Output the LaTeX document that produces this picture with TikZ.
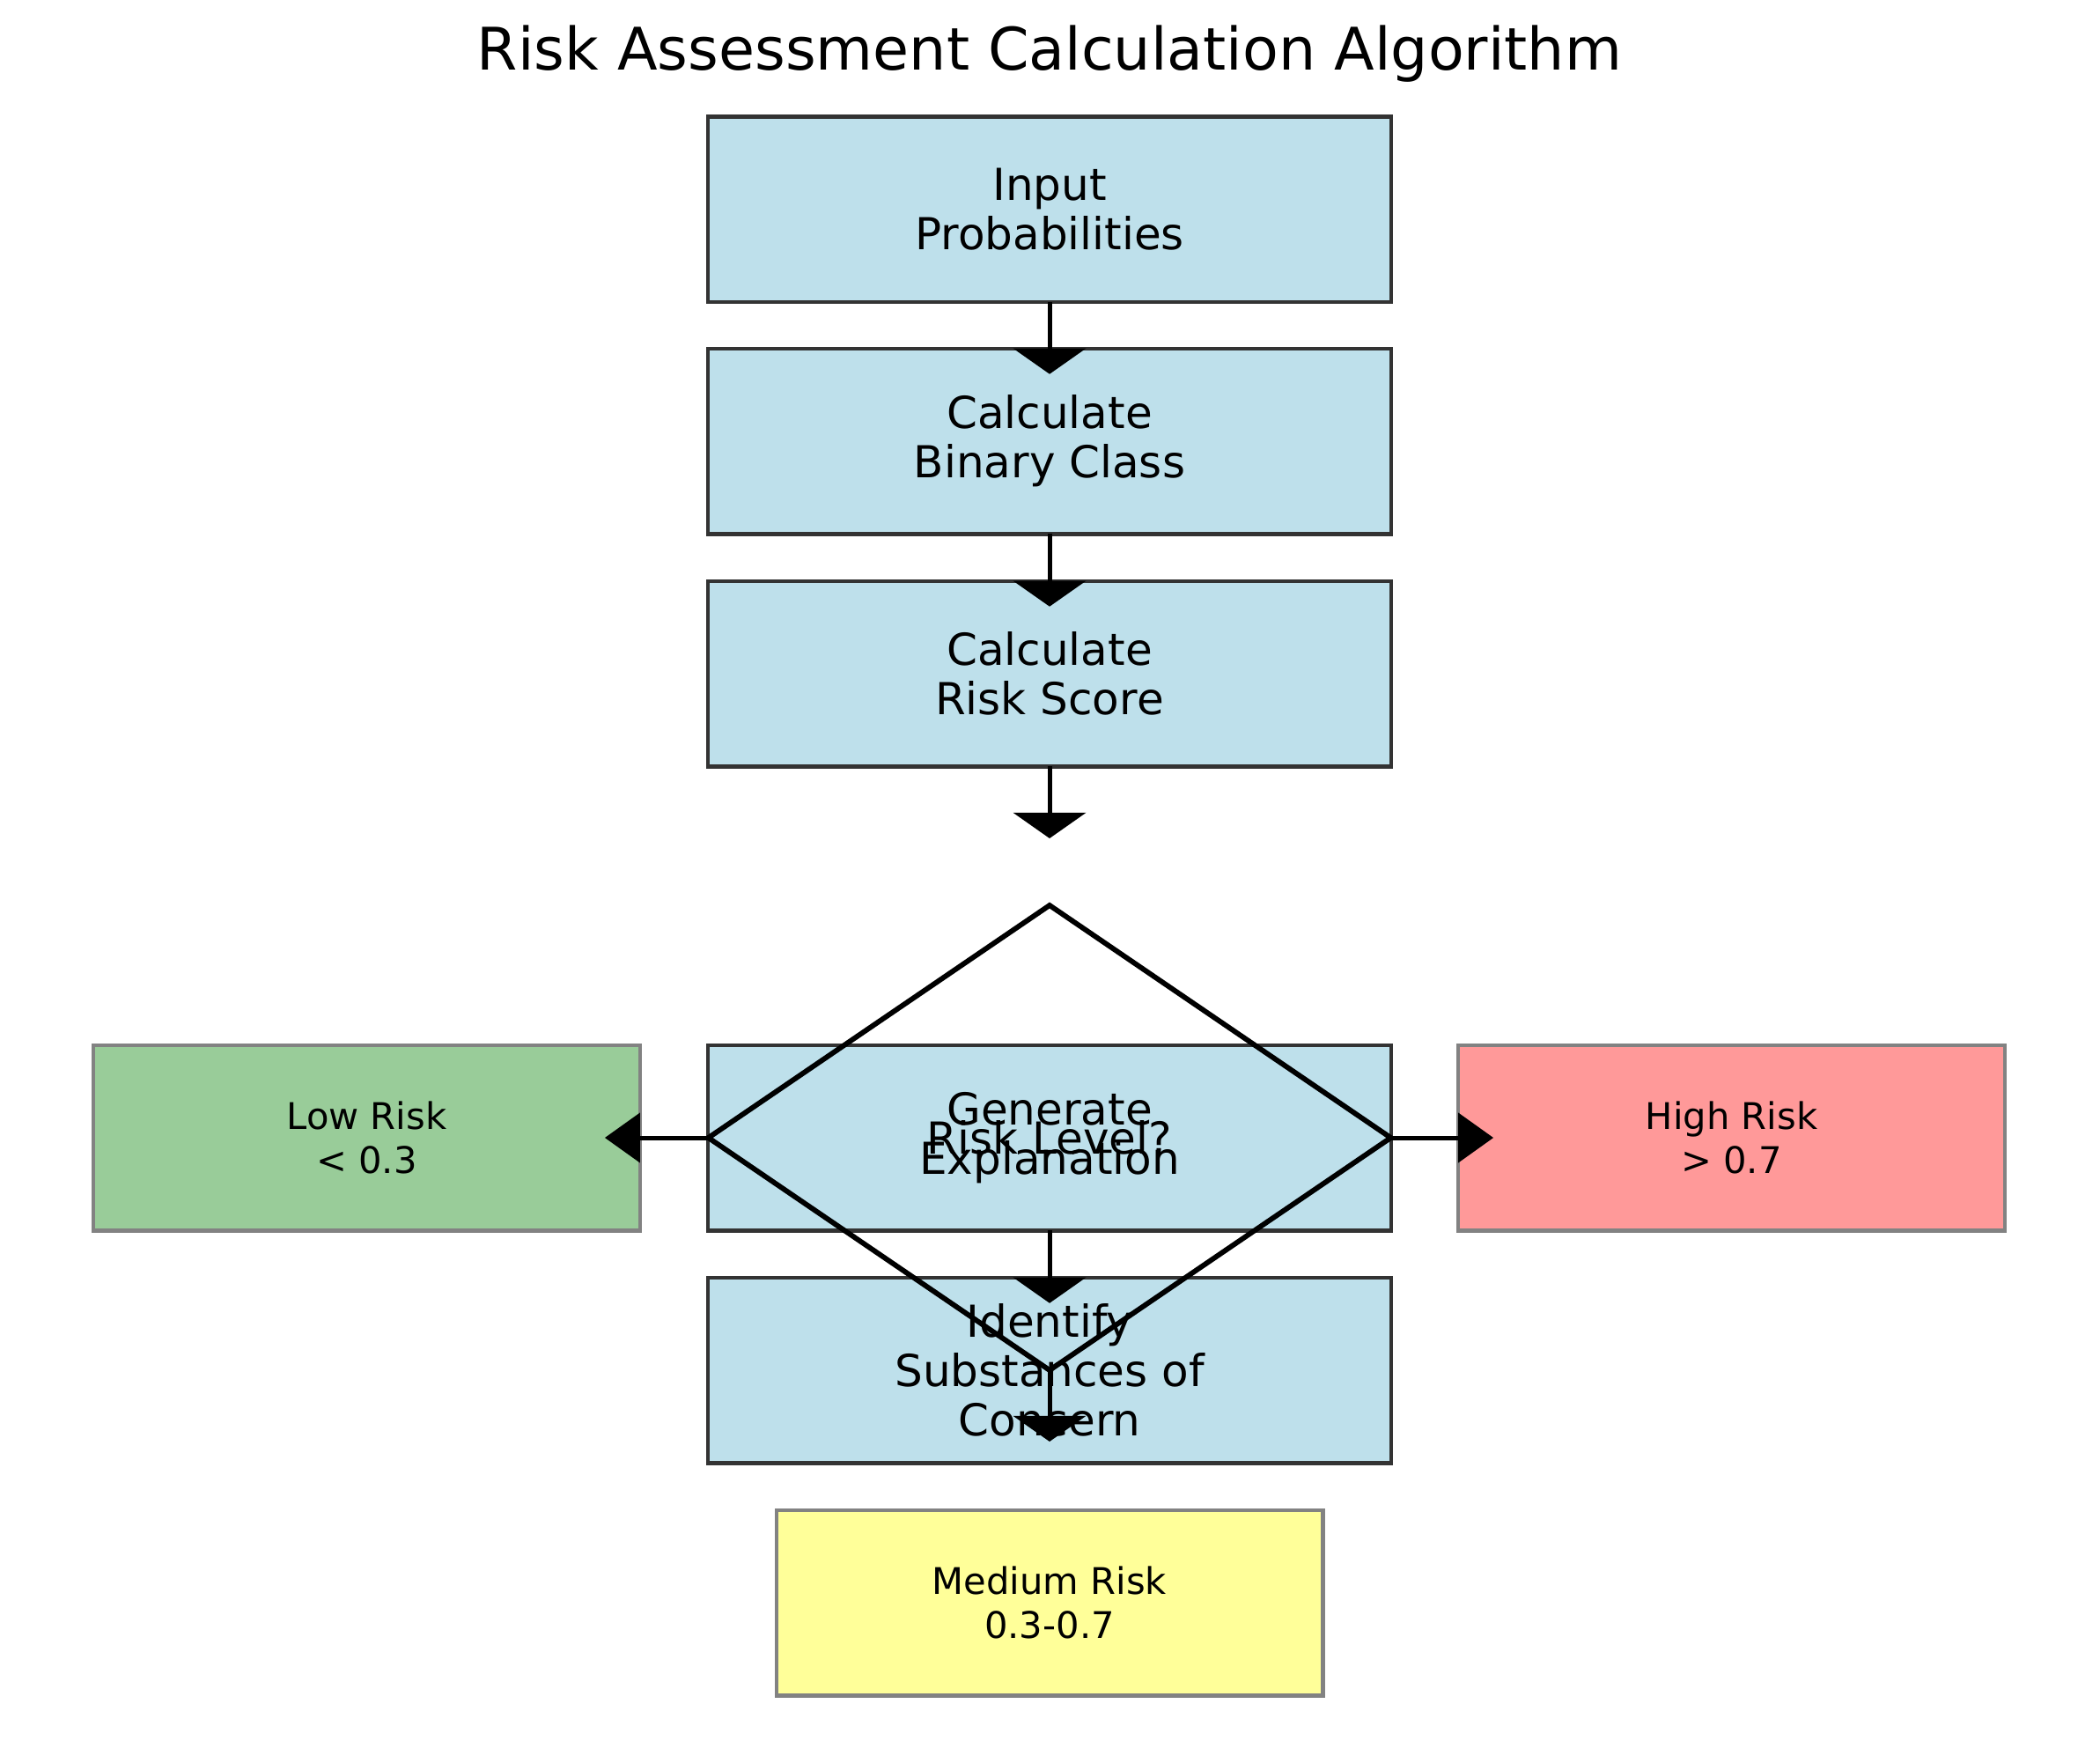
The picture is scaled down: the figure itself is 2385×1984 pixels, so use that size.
\documentclass[tikz,border=0pt]{standalone}
\usepackage{fontspec}
\setmainfont{DejaVu Sans}
\usetikzlibrary{shapes.geometric,arrows.meta}
\definecolor{boxfill}{RGB}{190,224,235}
\definecolor{boxedge}{RGB}{51,51,51}
\definecolor{lowfill}{RGB}{153,204,153}
\definecolor{highfill}{RGB}{255,153,153}
\definecolor{medfill}{RGB}{255,255,153}
\definecolor{riskedge}{RGB}{130,130,130}
\begin{document}
\begin{tikzpicture}[x=0.24pt,y=-0.24pt,
  procbox/.style={rectangle,draw=boxedge,fill=boxfill,line width=1pt,minimum width=186.2pt,minimum height=50.6pt,inner sep=0pt,outer sep=0pt},
  riskbox/.style={rectangle,draw=riskedge,line width=1pt,minimum width=149pt,minimum height=50.6pt,inner sep=0pt,outer sep=0pt},
  boxtext/.style={align=center,font=\fontsize{12}{13.5}\selectfont,inner sep=0pt},
  risktext/.style={align=center,font=\fontsize{10}{11.8}\selectfont,inner sep=0pt},
  flow/.style={line width=1.2pt,-{Triangle[width=19.7pt,length=7pt]}},
  side/.style={line width=1.2pt,-{Triangle[width=13.4pt,length=9.6pt]}},
  decision/.style={diamond,draw=black,line width=1.4pt,minimum width=186pt,minimum height=126.7pt,inner sep=0pt,outer sep=0pt}
]
\path[use as bounding box] (0,0) rectangle (2385,1984);
% boxes
\node[procbox] (b1) at (1192,238) {};
\node[procbox] (b2) at (1192,501) {};
\node[procbox] (b3) at (1192,765) {};
\node[procbox] (b4) at (1192,1292) {};
\node[procbox] (b5) at (1192,1556) {};
\node[riskbox,fill=lowfill] (low) at (416.5,1292) {};
\node[riskbox,fill=highfill] (high) at (1966.5,1292) {};
\node[riskbox,fill=medfill] (med) at (1192,1820) {};
\node[decision] (dec) at (1192,1292) {};
% connectors
\coordinate (t3) at (1192,952);
\coordinate (t6) at (1192,1637);
\draw[flow] (b1.south) -- ([yshift=-7pt]b2.north);
\draw[flow] (b2.south) -- ([yshift=-7pt]b3.north);
\draw[flow] (b3.south) -- (t3);
\draw[flow] (b4.south) -- ([yshift=-7pt]b5.north);
\draw[flow] (dec.south) -- (t6);
\draw[side] (dec.west) -- ([xshift=-9.6pt]low.east);
\draw[side] (dec.east) -- ([xshift=9.6pt]high.west);
% texts
\node[font=\fontsize{16}{19}\selectfont,inner sep=0pt] (title) at (1192,61) {Risk Assessment Calculation Algorithm};
\node[boxtext] (l1) at (b1) {Input\\Probabilities};
\node[boxtext] (l2) at (b2) {Calculate\\Binary Class};
\node[boxtext] (l3) at (b3) {Calculate\\Risk Score};
\node[boxtext] (l4) at (b4) {Generate\\Explanation};
\node[boxtext] (ld) at (dec) {Risk Level?};
\node[boxtext] (l5) at (b5) {Identify\\Substances of\\Concern};
\node[risktext] (llow) at (low) {Low Risk\\< 0.3};
\node[risktext] (lhigh) at (high) {High Risk\\> 0.7};
\node[risktext] (lmed) at (med) {Medium Risk\\0.3-0.7};
\end{tikzpicture}
\end{document}
